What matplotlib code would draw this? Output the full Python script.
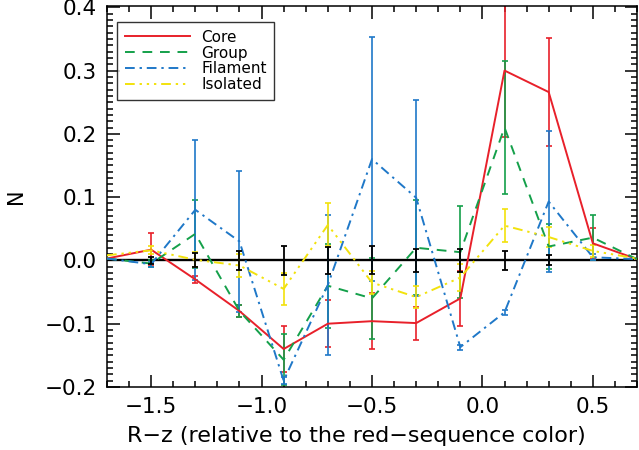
import numpy as np
import matplotlib
matplotlib.use('Agg')
import matplotlib.pyplot as plt
from matplotlib.ticker import MultipleLocator

plt.rcParams['font.family'] = ['DejaVu Sans']

x = [-1.7, -1.5, -1.3, -1.1, -0.9, -0.7, -0.5, -0.3, -0.1, 0.1, 0.3, 0.5, 0.7]

core = [0.003, 0.017, -0.030, -0.080, -0.140, -0.100, -0.096, -0.099, -0.060, 0.300, 0.266, 0.027, 0.002]
core_err = [0.0, 0.026, 0.005, 0.010, 0.036, 0.037, 0.044, 0.026, 0.044, 0.105, 0.086, 0.025, 0.0]

group = [0.003, -0.005, 0.042, -0.080, -0.157, -0.040, -0.060, 0.020, 0.013, 0.210, 0.022, 0.036, 0.002]
group_err = [0.0, 0.005, 0.054, 0.010, 0.040, 0.066, 0.064, 0.075, 0.073, 0.105, 0.036, 0.036, 0.0]

filament = [0.003, -0.006, 0.080, 0.030, -0.190, -0.039, 0.160, 0.099, -0.137, -0.082, 0.093, 0.005, 0.002]
filament_err = [0.0, 0.004, 0.111, 0.111, 0.006, 0.111, 0.193, 0.155, 0.004, 0.004, 0.112, 0.005, 0.0]

isolated = [0.008, 0.016, 0.001, -0.008, -0.045, 0.056, -0.035, -0.058, -0.027, 0.055, 0.037, 0.015, 0.003]
isolated_err = [0.0, 0.006, 0.012, 0.018, 0.025, 0.034, 0.018, 0.017, 0.022, 0.026, 0.016, 0.010, 0.0]

random_x = [-1.5, -1.3, -1.1, -0.9, -0.7, -0.5, -0.3, -0.1, 0.1, 0.3]
random_err = [0.005, 0.011, 0.015, 0.023, 0.021, 0.022, 0.018, 0.018, 0.015, 0.008]

series = [
    ('Core', core, core_err, '#e8202a', '-'),
    ('Group', group, group_err, '#14a04a', (0, (5, 4))),
    ('Filament', filament, filament_err, '#1f78c8', (0, (5, 2.5, 1.2, 2.5))),
    ('Isolated', isolated, isolated_err, '#f2e20c', (0, (5, 2.5, 1.2, 2.5, 1.2, 2.5, 1.2, 2.5))),
]

fig = plt.figure(figsize=(6.39, 4.5), dpi=100)
ax = fig.add_axes([0.1674, 0.14, 0.8295, 0.8467])

ax.axhline(0, color='black', lw=1.7, zorder=1)

for name, vals, errs, col, ls in series:
    ax.errorbar(x, vals, yerr=errs, fmt='none', ecolor=col, elinewidth=1.2,
                capsize=2.5, capthick=1.2, zorder=2)
    ax.plot(x, vals, color=col, ls=ls, lw=1.4, label=name, zorder=3)

ax.errorbar(random_x, np.zeros(len(random_x)), yerr=random_err, fmt='none',
            ecolor='black', elinewidth=1.3, capsize=2.5, capthick=1.3, zorder=4)

ax.set_xlim(-1.7, 0.7)
ax.set_ylim(-0.2, 0.402)
ax.xaxis.set_major_locator(MultipleLocator(0.5))
ax.xaxis.set_minor_locator(MultipleLocator(0.1))
ax.yaxis.set_major_locator(MultipleLocator(0.1))
ax.yaxis.set_minor_locator(MultipleLocator(0.01))
ax.tick_params(which='both', direction='in', top=True, right=True, width=1.1)
ax.tick_params(which='major', length=9, labelsize=15.5, pad=7)
ax.tick_params(which='minor', length=4.5)
ax.set_xticks([-1.5, -1.0, -0.5, 0.0, 0.5])
ax.set_xticklabels(['\u22121.5', '\u22121.0', '\u22120.5', '0.0', '0.5'])
ax.set_yticks([-0.2, -0.1, 0.0, 0.1, 0.2, 0.3, 0.4])
ax.set_yticklabels(['\u22120.2', '\u22120.1', '0.0', '0.1', '0.2', '0.3', '0.4'])
for s in ax.spines.values():
    s.set_linewidth(1.1)

ax.set_xlabel('R\u2212z (relative to the red\u2212sequence color)', fontsize=16)
ax.xaxis.set_label_coords(0.47, -0.102)
ax.set_ylabel('N', fontsize=15, labelpad=14)

leg = ax.legend(loc='upper left', bbox_to_anchor=(0.019, 0.958), borderaxespad=0,
                fontsize=11, frameon=True, fancybox=False, handlelength=4.3,
                handletextpad=0.7, borderpad=0.5, labelspacing=0.06)
leg.get_frame().set_edgecolor('black')
leg.get_frame().set_linewidth(1.0)

fig.savefig('out.png', dpi=100)
